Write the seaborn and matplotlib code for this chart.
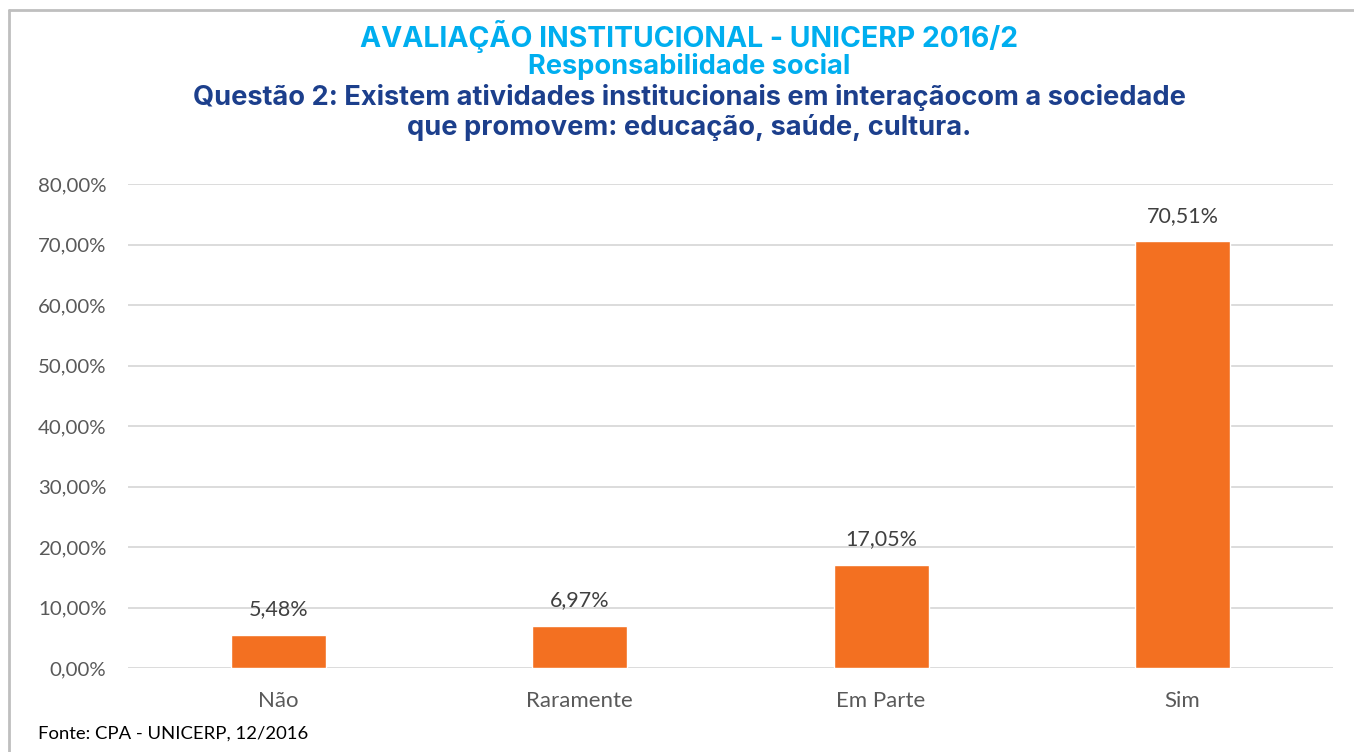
import matplotlib
matplotlib.use("Agg")
import matplotlib.pyplot as plt
import seaborn as sns
import pandas as pd
from matplotlib.lines import Line2D

# dados
categorias = ["Não", "Raramente", "Em Parte", "Sim"]
percentuais = [5.48, 6.97, 17.05, 70.51]
ticks_y = [0, 10, 20, 30, 40, 50, 60, 70, 80]

df = pd.DataFrame({"categoria": categorias, "percentual": percentuais})

sns.set_theme(style="white")
plt.rcParams["font.family"] = ["Lato", "DejaVu Sans"]

fig = plt.figure(figsize=(13.54, 7.52), dpi=100)
ax = fig.add_axes([0.0945, 0.1117, 0.890, 0.6436])

sns.barplot(data=df, x="categoria", y="percentual", color="#F37021",
            width=0.315, saturation=1, ax=ax, zorder=3)

ax.set_ylim(0, 80)
ax.set_xlim(-0.5, 3.5)
ax.set_yticks(ticks_y)
ax.set_yticklabels([f"{v:.2f}%".replace(".", ",") for v in ticks_y])
ax.yaxis.grid(True, color="#D9D9D9", linewidth=1.3, zorder=0)
ax.set_axisbelow(True)
for s in ax.spines.values():
    s.set_visible(False)
ax.tick_params(axis="y", length=0, pad=15.5, labelsize=14.7, labelcolor="#595959")
ax.tick_params(axis="x", length=0, pad=16.5, labelsize=16, labelcolor="#595959")
ax.set_xlabel("")
ax.set_ylabel("")

# rótulos dos valores
for i, v in enumerate(percentuais):
    ax.annotate(f"{v:.2f}%".replace(".", ","), (i, v), xytext=(0, 11),
                textcoords="offset points", ha="center", va="bottom",
                fontsize=15.5, color="#404040")

# títulos
tfont = ["Inter", "DejaVu Sans"]
fig.text(0.509, 0.951, "AVALIAÇÃO INSTITUCIONAL - UNICERP 2016/2", ha="center", va="center",
         fontsize=20.4, fontweight="bold", color="#00AEEF", family=tfont)
fig.text(0.509, 0.912, "Responsabilidade social", ha="center", va="center",
         fontsize=19.6, fontweight="bold", color="#00AEEF", family=tfont)
fig.text(0.509, 0.870, "Questão 2: Existem atividades institucionais em interaçãocom a sociedade",
         ha="center", va="center", fontsize=19.6, fontweight="bold", color="#1C3F8C", family=tfont)
fig.text(0.509, 0.831, "que promovem: educação, saúde, cultura.",
         ha="center", va="center", fontsize=19.6, fontweight="bold", color="#1C3F8C", family=tfont)

fig.text(0.028, 0.025, "Fonte: CPA - UNICERP, 12/2016", ha="left", va="center",
         fontsize=13.3, color="black")

# moldura
fig.add_artist(Line2D([0.0063, 0.0063], [0, 0.9867], color="#BFBFBF", linewidth=2,
                      transform=fig.transFigure))
fig.add_artist(Line2D([0.0063, 1], [0.9867, 0.9867], color="#BFBFBF", linewidth=2,
                      transform=fig.transFigure))

fig.savefig("out.png", dpi=100, facecolor="white")
